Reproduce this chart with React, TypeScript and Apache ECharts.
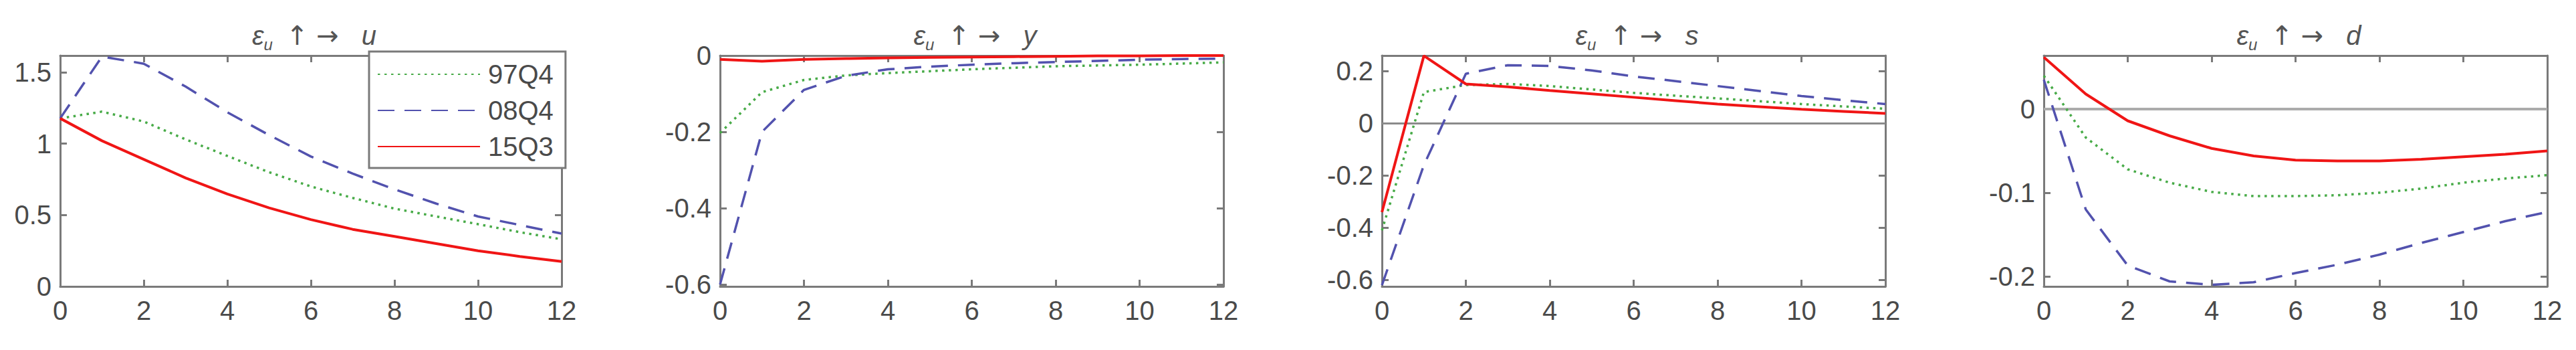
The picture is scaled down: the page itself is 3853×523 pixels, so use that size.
import React, { useEffect, useRef } from "react";
import * as echarts from "echarts";

// Impulse responses to a u-shock, horizons 0..12
const horizons = [0, 1, 2, 3, 4, 5, 6, 7, 8, 9, 10, 11, 12];
const xTicks = [0, 2, 4, 6, 8, 10, 12];
const vintages = ["97Q4", "08Q4", "15Q3"];
const responses = ["u", "y", "s", "d"];

// response of u
const u97Q4 = [1.177, 1.224, 1.155, 1.03, 0.914, 0.8, 0.7, 0.62, 0.545, 0.49, 0.436, 0.38, 0.33];
const u08Q4 = [1.177, 1.61, 1.56, 1.4, 1.22, 1.06, 0.91, 0.79, 0.68, 0.58, 0.49, 0.43, 0.37];
const u15Q3 = [1.177, 1.02, 0.89, 0.76, 0.647, 0.55, 0.468, 0.4, 0.35, 0.3, 0.25, 0.21, 0.175];

// response of y
const y97Q4 = [-0.203, -0.096, -0.064, -0.052, -0.046, -0.041, -0.036, -0.032, -0.028, -0.026, -0.024, -0.021, -0.018];
const y08Q4 = [-0.6, -0.2, -0.09, -0.053, -0.036, -0.029, -0.024, -0.02, -0.017, -0.014, -0.011, -0.009, -0.008];
const y15Q3 = [-0.01, -0.015, -0.01, -0.008, -0.006, -0.005, -0.004, -0.003, -0.002, -0.001, -0.001, 0, 0];

// response of s
const s97Q4 = [-0.41, 0.12, 0.147, 0.151, 0.143, 0.13, 0.117, 0.106, 0.096, 0.085, 0.074, 0.065, 0.056];
const s08Q4 = [-0.62, -0.16, 0.19, 0.223, 0.22, 0.203, 0.18, 0.162, 0.143, 0.124, 0.105, 0.089, 0.074];
const s15Q3 = [-0.34, 0.259, 0.151, 0.14, 0.126, 0.113, 0.1, 0.087, 0.074, 0.064, 0.054, 0.046, 0.038];

// response of d
const d97Q4 = [0.04, -0.034, -0.072, -0.088, -0.099, -0.104, -0.104, -0.103, -0.1, -0.095, -0.088, -0.083, -0.079];
const d08Q4 = [0.035, -0.12, -0.187, -0.206, -0.21, -0.207, -0.196, -0.186, -0.174, -0.16, -0.147, -0.134, -0.123];
const d15Q3 = [0.062, 0.018, -0.014, -0.032, -0.047, -0.056, -0.061, -0.062, -0.062, -0.06, -0.057, -0.054, -0.05];

const uTicks = [0, 0.5, 1, 1.5];
const yTicks = [-0.6, -0.4, -0.2, 0];
const sTicks = [-0.6, -0.4, -0.2, 0, 0.2];
const dTicks = [-0.2, -0.1, 0];

const yLimits = [
  [0, 1.617],
  [-0.605, 0],
  [-0.625, 0.26],
  [-0.212, 0.064],
];

const panelData = [
  [u97Q4, u08Q4, u15Q3],
  [y97Q4, y08Q4, y15Q3],
  [s97Q4, s08Q4, s15Q3],
  [d97Q4, d08Q4, d15Q3],
];
const panelTicks = [uTicks, yTicks, sTicks, dTicks];

// layout / styling
const FONT = "'Liberation Sans', Arial, Helvetica, sans-serif";
const AXIS_COLOR = "#7a7a7a";
const TEXT_COLOR = "#4a4a4a";
const TITLE_COLOR = "#555555";
const gridLefts = [90, 1077, 2067, 3057];
const gridWidths = [750, 753, 753, 753];
const GRID_TOP = 83;
const GRID_HEIGHT = 345;

const lineStyles = [
  { color: "#48ab48", width: 3.5, type: [3.5, 6.5] },
  { color: "#5252ae", width: 3.5, type: [25, 15] },
  { color: "#f01515", width: 4, type: "solid" },
];
const zeroLines = [null, null, { color: "#8a8a8a", width: 3 }, { color: "#ababab", width: 4 }];

const App: React.FC = () => {
  const chartRef = useRef<HTMLDivElement>(null);

  useEffect(() => {
    document.body.style.margin = "0";
    if (!chartRef.current) return;
    const chart = echarts.init(chartRef.current, null, { renderer: "svg" });

    const axisLine = { onZero: false, lineStyle: { color: AXIS_COLOR, width: 3 } };
    const tickStyle = { color: AXIS_COLOR, width: 3 };
    const labelStyle = {
      fontSize: 40,
      fontFamily: FONT,
      color: TEXT_COLOR,
      formatter: (v: number) => `${v}`,
    };
    const titleText = {
      fontFamily: FONT,
      fontWeight: "normal",
      color: TITLE_COLOR,
    };

    const grids: any[] = [];
    const xAxes: any[] = [];
    const yAxes: any[] = [];
    const titles: any[] = [];
    const series: any[] = [];

    responses.forEach((resp, i) => {
      grids.push({
        left: gridLefts[i],
        top: GRID_TOP,
        width: gridWidths[i],
        height: GRID_HEIGHT,
      });

      ["bottom", "top"].forEach((pos) => {
        xAxes.push({
          gridIndex: i,
          type: "value",
          position: pos,
          min: 0,
          max: 12,
          axisLine,
          axisTick: { inside: true, length: 10, customValues: xTicks, lineStyle: tickStyle },
          axisLabel:
            pos === "bottom"
              ? { ...labelStyle, customValues: xTicks, margin: 16 }
              : { show: false },
          splitLine: { show: false },
        });
      });

      ["left", "right"].forEach((pos) => {
        yAxes.push({
          gridIndex: i,
          type: "value",
          position: pos,
          min: yLimits[i][0],
          max: yLimits[i][1],
          axisLine,
          axisTick: { inside: true, length: 10, customValues: panelTicks[i], lineStyle: tickStyle },
          axisLabel:
            pos === "left"
              ? { ...labelStyle, customValues: panelTicks[i], margin: 13 }
              : { show: false },
          splitLine: { show: false },
        });
      });

      titles.push({
        text: `{e|ε}{s|u}{a|↑}{a|→}{v|${resp}}`,
        left: gridLefts[i] + gridWidths[i] / 2,
        top: 24,
        textAlign: "center",
        textStyle: {
          ...titleText,
          rich: {
            e: { ...titleText, fontSize: 40, fontStyle: "italic", lineHeight: 48 },
            s: {
              ...titleText,
              fontSize: 24,
              fontStyle: "italic",
              lineHeight: 24,
              padding: [26, 14, 0, 0],
            },
            a: {
              ...titleText,
              fontSize: 40,
              fontFamily: "'DejaVu Sans', sans-serif",
              lineHeight: 48,
              padding: [0, 6],
            },
            v: {
              ...titleText,
              fontSize: 40,
              fontStyle: "italic",
              lineHeight: 48,
              padding: [0, 0, 0, 28],
            },
          },
        },
      });

      panelData[i].forEach((vals, k) => {
        const s: any = {
          name: vintages[k],
          type: "line",
          xAxisIndex: i * 2,
          yAxisIndex: i * 2,
          data: horizons.map((h, j) => [h, vals[j]]),
          symbol: "none",
          lineStyle: lineStyles[k],
          itemStyle: { color: lineStyles[k].color },
          z: 3 + k,
        };
        if (k === 0 && zeroLines[i]) {
          s.markLine = {
            silent: true,
            symbol: "none",
            label: { show: false },
            lineStyle: { ...zeroLines[i], type: "solid" },
            data: [{ yAxis: 0 }],
            z: 1,
          };
        }
        series.push(s);
      });
    });

    chart.setOption({
      animation: false,
      backgroundColor: "#ffffff",
      title: titles,
      grid: grids,
      xAxis: xAxes,
      yAxis: yAxes,
      legend: {
        data: vintages,
        orient: "vertical",
        left: 552,
        top: 77,
        padding: [14, 18, 12, 12],
        itemGap: 14,
        itemWidth: 153,
        itemHeight: 14,
        itemStyle: { opacity: 0 },
        backgroundColor: "#ffffff",
        borderColor: AXIS_COLOR,
        borderWidth: 3,
        borderRadius: 0,
        textStyle: { fontSize: 40, fontFamily: FONT, color: TEXT_COLOR, padding: [0, 0, 0, 7] },
        selectedMode: false,
      },
      series,
    });

    return () => {
      chart.dispose();
    };
  }, []);

  return <div ref={chartRef} style={{ width: 3853, height: 523 }} />;
};

export default App;
